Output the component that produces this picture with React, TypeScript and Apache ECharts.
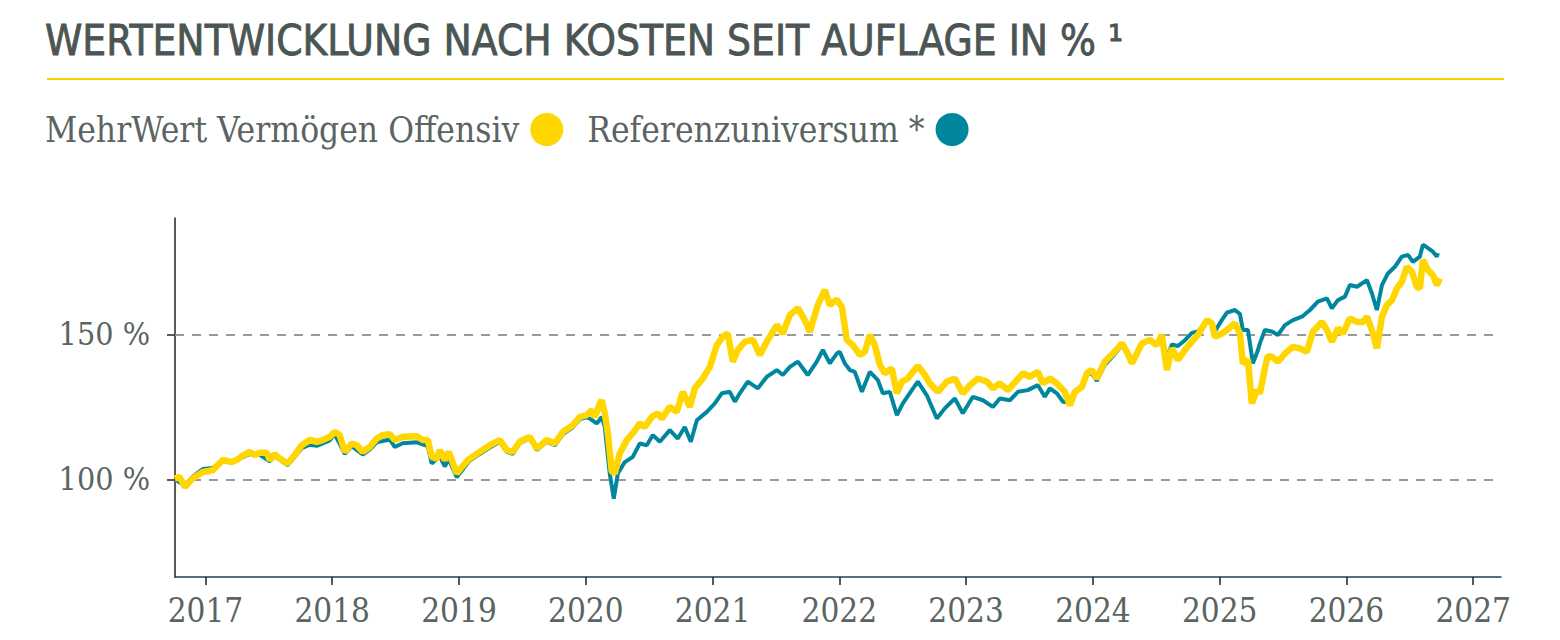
import { useEffect, useRef } from "react";
import * as echarts from "echarts";

// decimal years, values in % (start = 100)
const fundYears = [
  2016.758, 2016.797, 2016.837, 2016.9, 2016.939, 2016.979, 2017.058, 2017.136, 2017.207, 2017.247,
  2017.286, 2017.349, 2017.389, 2017.428, 2017.484, 2017.507, 2017.547, 2017.586, 2017.649, 2017.704,
  2017.76, 2017.823, 2017.878, 2017.925, 2017.981, 2018.02, 2018.059, 2018.099, 2018.154, 2018.194,
  2018.241, 2018.296, 2018.351, 2018.399, 2018.454, 2018.493, 2018.556, 2018.667, 2018.714, 2018.754,
  2018.785, 2018.825, 2018.848, 2018.888, 2018.919, 2018.982, 2019.022, 2019.085, 2019.164, 2019.243,
  2019.322, 2019.377, 2019.424, 2019.479, 2019.558, 2019.614, 2019.692, 2019.756, 2019.819, 2019.898,
  2019.953, 2020.008, 2020.047, 2020.071, 2020.087, 2020.111, 2020.126, 2020.15, 2020.174, 2020.205,
  2020.229, 2020.268, 2020.324, 2020.371, 2020.426, 2020.466, 2020.521, 2020.568, 2020.6, 2020.663,
  2020.718, 2020.765, 2020.821, 2020.86, 2020.923, 2020.979, 2021.034, 2021.081, 2021.12, 2021.16,
  2021.199, 2021.255, 2021.318, 2021.373, 2021.428, 2021.507, 2021.554, 2021.61, 2021.673, 2021.728,
  2021.767, 2021.83, 2021.886, 2021.925, 2021.98, 2022.02, 2022.059, 2022.107, 2022.162, 2022.201,
  2022.241, 2022.28, 2022.32, 2022.359, 2022.414, 2022.454, 2022.493, 2022.54, 2022.58, 2022.619,
  2022.675, 2022.714, 2022.777, 2022.848, 2022.911, 2022.974, 2023.03, 2023.093, 2023.164, 2023.211,
  2023.266, 2023.329, 2023.4, 2023.448, 2023.503, 2023.566, 2023.605, 2023.661, 2023.716, 2023.779,
  2023.818, 2023.858, 2023.913, 2023.953, 2023.992, 2024.031, 2024.094, 2024.158, 2024.229, 2024.268,
  2024.308, 2024.347, 2024.387, 2024.45, 2024.505, 2024.544, 2024.584, 2024.623, 2024.67, 2024.726,
  2024.781, 2024.828, 2024.899, 2024.939, 2024.962, 2025.018, 2025.057, 2025.12, 2025.16, 2025.183,
  2025.223, 2025.254, 2025.294, 2025.317, 2025.357, 2025.38, 2025.412, 2025.459, 2025.515, 2025.578,
  2025.633, 2025.688, 2025.735, 2025.806, 2025.846, 2025.885, 2025.933, 2025.972, 2026.027, 2026.083,
  2026.13, 2026.162, 2026.201, 2026.24, 2026.28, 2026.319, 2026.359, 2026.398, 2026.437, 2026.477,
  2026.516, 2026.556, 2026.579, 2026.603, 2026.643, 2026.682, 2026.713, 2026.737,
];
const fundValues = [
  100.3, 100.9, 97.4, 100.4, 101.5, 102.6, 103.2, 106.7, 106.0, 106.7,
  108.0, 109.5, 108.4, 109.2, 109.2, 106.7, 108.7, 107.2, 105.5, 108.4,
  111.8, 113.6, 113.0, 113.6, 114.7, 116.4, 115.3, 109.5, 112.4, 111.8,
  109.5, 111.2, 114.1, 115.3, 115.6, 113.6, 114.7, 114.9, 113.6, 113.6,
  107.8, 107.2, 110.1, 106.7, 109.5, 102.1, 104.3, 107.2, 109.5, 111.8,
  113.6, 110.1, 109.5, 113.0, 114.7, 110.7, 113.6, 112.4, 116.4, 118.7,
  121.6, 122.2, 123.9, 121.6, 123.3, 126.2, 127.3, 122.8, 115.9, 102.8,
  102.1, 109.0, 113.6, 115.9, 119.3, 118.1, 121.6, 122.8, 121.0, 125.0,
  123.3, 130.2, 125.0, 131.4, 134.8, 138.8, 146.3, 149.2, 150.3, 140.6,
  144.6, 147.5, 148.1, 142.9, 147.5, 153.2, 150.3, 156.7, 159.0, 154.9,
  150.9, 160.1, 165.3, 160.1, 162.0, 159.5, 148.1, 146.3, 142.9, 144.0,
  149.8, 146.3, 139.4, 136.6, 138.3, 129.7, 133.7, 134.8, 137.1, 139.1,
  136.0, 133.1, 130.2, 133.7, 134.8, 129.7, 132.5, 134.8, 133.7, 131.4,
  133.1, 130.8, 134.2, 136.6, 135.4, 137.1, 133.1, 134.8, 133.1, 130.2,
  125.5, 130.2, 131.9, 136.6, 137.7, 134.8, 140.6, 143.4, 146.9, 144.0,
  140.0, 143.4, 146.9, 148.1, 146.3, 149.8, 137.7, 145.2, 141.2, 144.6,
  147.5, 149.8, 154.9, 153.8, 149.2, 150.3, 151.5, 153.8, 150.3, 140.0,
  141.2, 126.2, 130.8, 129.7, 138.5, 142.5, 142.3, 140.6, 143.4, 145.7,
  145.2, 144.0, 150.9, 154.3, 151.5, 147.5, 152.1, 150.3, 155.5, 154.3,
  154.3, 156.1, 151.5, 145.2, 156.1, 160.1, 161.8, 165.9, 168.1, 173.3,
  171.6, 166.4, 165.9, 175.6, 172.2, 170.4, 167.0, 169.3,
];

const refYears = [
  2016.758, 2016.837, 2016.9, 2016.979, 2017.058, 2017.136, 2017.207, 2017.286, 2017.349, 2017.428,
  2017.507, 2017.547, 2017.649, 2017.704, 2017.76, 2017.823, 2017.878, 2017.981, 2018.02, 2018.099,
  2018.154, 2018.241, 2018.296, 2018.351, 2018.454, 2018.493, 2018.556, 2018.667, 2018.754, 2018.785,
  2018.848, 2018.888, 2018.919, 2018.982, 2019.022, 2019.085, 2019.164, 2019.243, 2019.322, 2019.377,
  2019.424, 2019.479, 2019.558, 2019.614, 2019.692, 2019.756, 2019.819, 2019.898, 2019.953, 2020.008,
  2020.032, 2020.087, 2020.126, 2020.15, 2020.189, 2020.221, 2020.253, 2020.308, 2020.371, 2020.426,
  2020.481, 2020.529, 2020.584, 2020.663, 2020.726, 2020.781, 2020.829, 2020.876, 2020.955, 2021.018,
  2021.073, 2021.136, 2021.176, 2021.215, 2021.278, 2021.357, 2021.428, 2021.507, 2021.554, 2021.61,
  2021.673, 2021.751, 2021.822, 2021.87, 2021.925, 2021.98, 2022.003, 2022.043, 2022.083, 2022.122,
  2022.178, 2022.241, 2022.304, 2022.343, 2022.398, 2022.454, 2022.501, 2022.572, 2022.619, 2022.69,
  2022.769, 2022.832, 2022.911, 2022.974, 2023.053, 2023.132, 2023.211, 2023.266, 2023.345, 2023.409,
  2023.487, 2023.566, 2023.621, 2023.661, 2023.716, 2023.763, 2023.818, 2023.858, 2023.913, 2023.953,
  2023.992, 2024.031, 2024.094, 2024.158, 2024.229, 2024.268, 2024.308, 2024.347, 2024.387, 2024.45,
  2024.505, 2024.544, 2024.584, 2024.623, 2024.67, 2024.726, 2024.781, 2024.828, 2024.899, 2024.939,
  2024.962, 2025.018, 2025.057, 2025.12, 2025.16, 2025.183, 2025.223, 2025.262, 2025.302, 2025.317,
  2025.357, 2025.412, 2025.459, 2025.515, 2025.578, 2025.649, 2025.712, 2025.775, 2025.846, 2025.885,
  2025.933, 2025.988, 2026.027, 2026.083, 2026.162, 2026.201, 2026.24, 2026.28, 2026.327, 2026.382,
  2026.437, 2026.485, 2026.524, 2026.579, 2026.603, 2026.643, 2026.682, 2026.713, 2026.721,
];
const refValues = [
  100.0, 98.0, 101.0, 103.6, 104.0, 106.3, 106.0, 107.5, 108.8, 108.5,
  106.3, 108.0, 105.0, 107.8, 110.8, 112.0, 111.6, 113.5, 115.6, 108.8,
  111.5, 108.6, 110.3, 112.8, 113.8, 111.2, 112.5, 112.8, 111.5, 105.5,
  108.0, 104.5, 107.0, 100.8, 103.0, 106.5, 108.8, 111.0, 113.0, 109.5,
  108.8, 112.5, 114.2, 110.2, 113.0, 111.8, 115.6, 118.0, 120.8, 121.4,
  121.0, 119.3, 121.5, 118.1, 102.1, 93.4, 102.1, 106.0, 107.8, 112.4,
  111.8, 115.3, 113.0, 117.0, 114.1, 118.1, 113.0, 120.4, 123.3, 126.2,
  129.7, 130.2, 126.8, 129.7, 133.7, 131.4, 135.4, 137.7, 136.0, 138.8,
  140.6, 136.0, 140.6, 144.6, 140.0, 143.4, 144.0, 140.0, 137.7, 137.1,
  130.2, 137.1, 134.2, 129.7, 130.2, 122.2, 126.2, 130.8, 133.7, 129.0,
  121.0, 124.5, 127.9, 122.8, 128.5, 127.3, 125.0, 127.9, 127.3, 130.2,
  130.8, 132.5, 128.5, 131.4, 129.7, 126.8, 126.5, 130.5, 132.2, 136.3,
  136.5, 134.0, 139.5, 142.5, 146.3, 144.5, 141.0, 143.8, 146.5, 148.0,
  146.5, 149.0, 142.0, 146.5, 146.0, 148.0, 150.5, 151.0, 154.5, 154.0,
  151.0, 155.0, 157.5, 158.4, 157.0, 151.5, 151.5, 140.0, 144.6, 146.9,
  151.5, 151.0, 149.8, 153.2, 154.9, 156.1, 158.4, 161.3, 162.4, 159.0,
  161.8, 163.0, 167.0, 166.4, 168.7, 164.1, 158.4, 167.0, 171.0, 173.3,
  176.8, 177.4, 175.0, 176.8, 180.9, 179.7, 178.5, 176.8, 178.0,
];

const yearTicks = [2017, 2018, 2019, 2020, 2021, 2022, 2023, 2024, 2025, 2026, 2027];
const percentTicks = [100, 150];

const fundName = "MehrWert Vermögen Offensiv";
const refName = "Referenzuniversum *";
const YELLOW = "#FFD600";
const TEAL = "#00879E";
const GREY_TEXT = "#5A6462";
const SLAB = "'DejaVu Serif Condensed', 'DejaVu Serif', serif";

export default function App() {
  const ref = useRef<HTMLDivElement>(null);

  useEffect(() => {
    if (!ref.current) return;
    const chart = echarts.init(ref.current, undefined, { renderer: "svg" });
    chart.setOption({
      animation: false,
      backgroundColor: "#fff",
      title: {
        text: "WERTENTWICKLUNG NACH KOSTEN SEIT AUFLAGE IN % ¹",
        left: 45,
        top: 19,
        padding: 0,
        textStyle: {
          fontFamily: "'DejaVu Sans Condensed', sans-serif",
          fontWeight: "normal",
          fontSize: 42,
          color: "#4B5553",
          textBorderColor: "#4B5553",
          textBorderWidth: 0.8,
        },
      },
      graphic: [
        {
          type: "line",
          shape: { x1: 47, y1: 79, x2: 1504, y2: 79 },
          style: { stroke: "#F5D300", lineWidth: 2 },
          silent: true,
        },
      ],
      legend: {
        left: 45,
        top: 112,
        padding: 0,
        align: "right",
        icon: "circle",
        itemWidth: 33,
        itemHeight: 33,
        itemGap: 24,
        textStyle: {
          fontFamily: SLAB,
          fontSize: 35,
          color: GREY_TEXT,
          padding: [0, 6, 0, 0],
        },
        data: [
          { name: fundName, itemStyle: { color: YELLOW, borderWidth: 0 } },
          { name: refName, itemStyle: { color: TEAL, borderWidth: 0 } },
        ],
      },
      grid: { left: 175, right: 59, top: 218, bottom: 63 },
      xAxis: {
        type: "value",
        min: 2016.76,
        max: 2027.219,
        axisLine: { lineStyle: { color: "#1C3F5E", width: 1.5 } },
        axisTick: { customValues: yearTicks, length: 8, lineStyle: { color: "#222", width: 1.5 } },
        axisLabel: {
          customValues: yearTicks,
          margin: 17,
          fontFamily: SLAB,
          fontSize: 33,
          color: GREY_TEXT,
          formatter: (v: number) => String(Math.round(v)),
        },
        splitLine: { show: false },
      },
      yAxis: {
        type: "value",
        min: 66.4,
        max: 190.1,
        axisLine: { show: true, lineStyle: { color: "#222", width: 1.5 } },
        axisTick: { show: true, customValues: percentTicks, length: 8, lineStyle: { color: "#222", width: 1.5 } },
        axisLabel: {
          customValues: percentTicks,
          margin: 25,
          fontFamily: SLAB,
          fontSize: 32,
          color: GREY_TEXT,
          formatter: (v: number) => `${v} %`,
        },
        splitLine: { show: false },
      },
      series: [
        {
          name: refName,
          type: "line",
          z: 6,
          data: refYears.map((y, i) => [y, refValues[i]]),
          showSymbol: false,
          symbol: "none",
          lineStyle: { color: TEAL, width: 4 },
          itemStyle: { color: TEAL },
          markLine: {
            silent: true,
            z: 1,
            symbol: ["none", "none"],
            label: { show: false },
            lineStyle: { color: "#999", width: 2, type: [9, 8] },
            data: percentTicks.map((v) => ({ yAxis: v })),
          },
        },
        {
          name: fundName,
          type: "line",
          z: 7,
          data: fundYears.map((y, i) => [y, fundValues[i]]),
          showSymbol: false,
          symbol: "none",
          lineStyle: { color: YELLOW, width: 6.5 },
          itemStyle: { color: YELLOW },
        },
      ],
    });
    return () => chart.dispose();
  }, []);

  return (
    <div
      ref={ref}
      style={{ position: "absolute", left: 0, top: 0, width: 1560, height: 640 }}
    />
  );
}
